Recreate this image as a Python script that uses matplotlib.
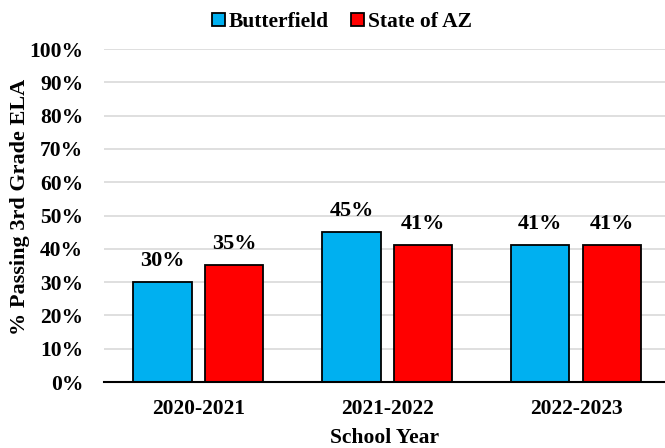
import matplotlib
matplotlib.use("Agg")
import matplotlib.pyplot as plt
import numpy as np

categories = ["2020-2021", "2021-2022", "2022-2023"]
series_names = ["Butterfield", "State of AZ"]
butterfield = [30, 45, 41]
state_az = [35, 41, 41]
y_ticks = [0, 10, 20, 30, 40, 50, 60, 70, 80, 90, 100]

plt.rcParams['font.family'] = ['Liberation Serif', 'DejaVu Serif']
plt.rcParams['font.weight'] = 'bold'

W, H = 665, 448
fig = plt.figure(figsize=(W/100, H/100), dpi=100)
ax = fig.add_axes([104/W, 1-382/H, (665-104)/W, (382-49)/H])

x = np.arange(len(categories))
bw = 0.308
off = 0.19
colors = ["#00B0F0", "#FF0000"]
b1 = ax.bar(x - off, butterfield, bw, color=colors[0], edgecolor="black", linewidth=1.3, label=series_names[0], zorder=3)
b2 = ax.bar(x + off, state_az, bw, color=colors[1], edgecolor="black", linewidth=1.3, label=series_names[1], zorder=3)

for bars, vals in ((b1, butterfield), (b2, state_az)):
    for b, v in zip(bars, vals):
        ax.annotate(f"{v}%", (b.get_x() + b.get_width()/2, v), xytext=(0, 8),
                    textcoords="offset points", ha="center", va="bottom",
                    fontsize=16, fontweight="bold")

ax.set_xlim(-0.5, 2.47)
ax.set_ylim(0, 100)
ax.set_yticks(y_ticks)
ax.set_yticklabels([f"{t}%" for t in y_ticks], fontsize=15.5, fontweight="bold")
ax.set_xticks(x)
ax.set_xticklabels(categories, fontsize=15.5, fontweight="bold")
ax.tick_params(axis="both", length=0)
ax.tick_params(axis="x", pad=12)
ax.tick_params(axis="y", pad=15)
ax.yaxis.grid(True, color="#D9D9D9", linewidth=1.2, zorder=0)
ax.set_axisbelow(True)
for s in ["top", "right", "left"]:
    ax.spines[s].set_visible(False)
ax.spines["bottom"].set_linewidth(1.5)
ax.spines["bottom"].set_zorder(4)

ax.set_xlabel("School Year", fontsize=15.5, fontweight="bold", labelpad=6.5)
ax.set_ylabel("% Passing 3rd Grade ELA", fontsize=16, fontweight="bold")
ax.yaxis.set_label_coords((30-104)/561, (382-207)/333)

leg = fig.legend(loc="center", bbox_to_anchor=(342/W, 1-22/H), ncol=2, frameon=False,
                 fontsize=15.5, handlelength=0.6, handleheight=0.6, handletextpad=0.2,
                 columnspacing=1.0)
for t in leg.get_texts():
    t.set_fontweight("bold")

fig.savefig("out.png", dpi=100)
